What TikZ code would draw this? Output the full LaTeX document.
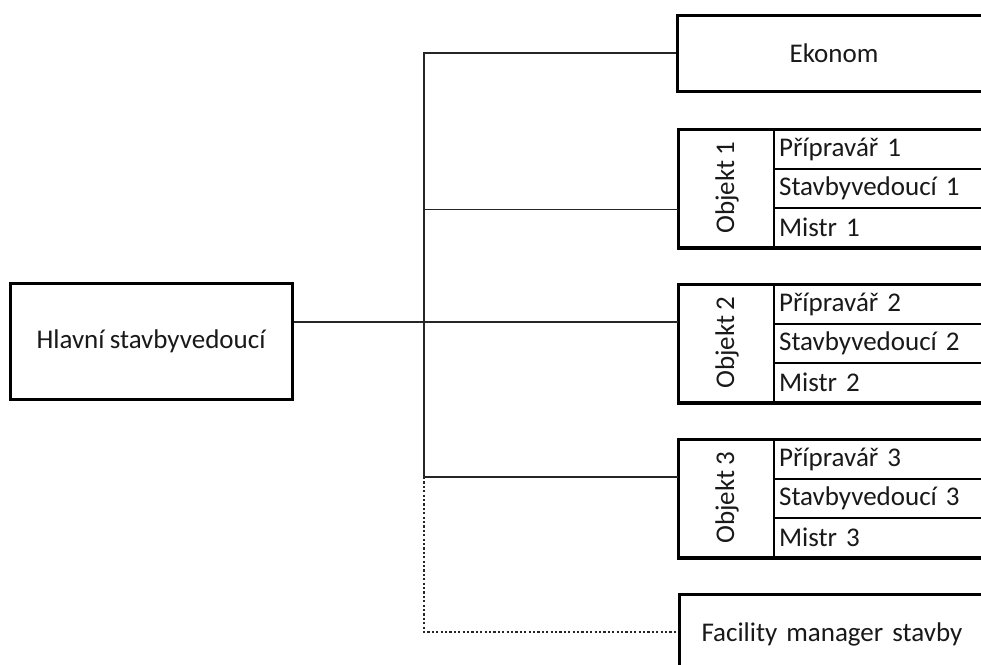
\documentclass[tikz,border=0pt]{standalone}
\usepackage{fontspec}
\setmainfont{Carlito}[WordSpace=0.85]
\begin{document}
\begin{tikzpicture}[x=1pt,y=-1pt,
  every node/.style={font=\fontsize{27}{30}\selectfont, text=black!90, inner sep=0pt},
  bigbox/.style={draw=black, line width=3pt, fill=white, rectangle, align=center},
  lblcol/.style={draw=black, line width=2.2pt, rectangle, minimum width=95pt, minimum height=117pt},
  rowbox/.style={draw=black, line width=2.2pt, rectangle, minimum width=217pt, minimum height=39pt, anchor=north west, text width=207pt, align=left},
  conn/.style={draw=black!85, line width=1.4pt},
  dconn/.style={draw=black!85, line width=1.4pt, dash pattern=on 2.2pt off 2.2pt}]
\useasboundingbox (0,0) rectangle (981,664);
\clip (0,0) rectangle (981,664);
\fill[white] (0,0) rectangle (981,664);

% main box
\node[bigbox, minimum width=282pt, minimum height=116pt] (hlavni) at (151,341) {Hlavní stavbyvedoucí};

% Ekonom
\node[bigbox, minimum width=313pt, minimum height=76pt] (ekonom) at (834,53) {Ekonom};

% Objekt groups
\foreach \k/\t in {1/129, 2/284, 3/439} {
  \node[lblcol, anchor=north west] (obj\k) at (678,\t) {};
  \node[rotate=90] (objlbl\k) at (727,\t+58.5) {Objekt \k};
  \node[rowbox] (p\k) at (773,\t) {Přípravář \k};
  \node[rowbox] (s\k) at (773,\t+39) {Stavbyvedoucí \k};
  \node[rowbox] (m\k) at (773,\t+78) {Mistr \k};
  \draw[line width=3pt] (obj\k.north west) rectangle (m\k.south east);
}

% Facility manager
\node[bigbox, minimum width=312pt, minimum height=80pt, anchor=north west, text width=300pt, align=left] (facility) at (678,593) {\hspace*{16pt}Facility manager stavby};

% connectors
\coordinate (tTop) at (424,53);
\coordinate (tMid) at (424,322);
\coordinate (tBot) at (424,477);
\coordinate (tEnd) at (424,632);
\draw[conn] (hlavni.east |- tMid) -- (tMid) -- (obj2.west |- tMid);
\draw[conn] (ekonom.west) -- (tTop) -- (tBot) -- (obj3.west |- tBot);
\draw[conn] (tTop |- s1.south) -- (obj1.west |- s1.south);
\draw[dconn] (tBot) -- (tEnd) -- (facility.west |- tEnd);
\end{tikzpicture}
\end{document}
